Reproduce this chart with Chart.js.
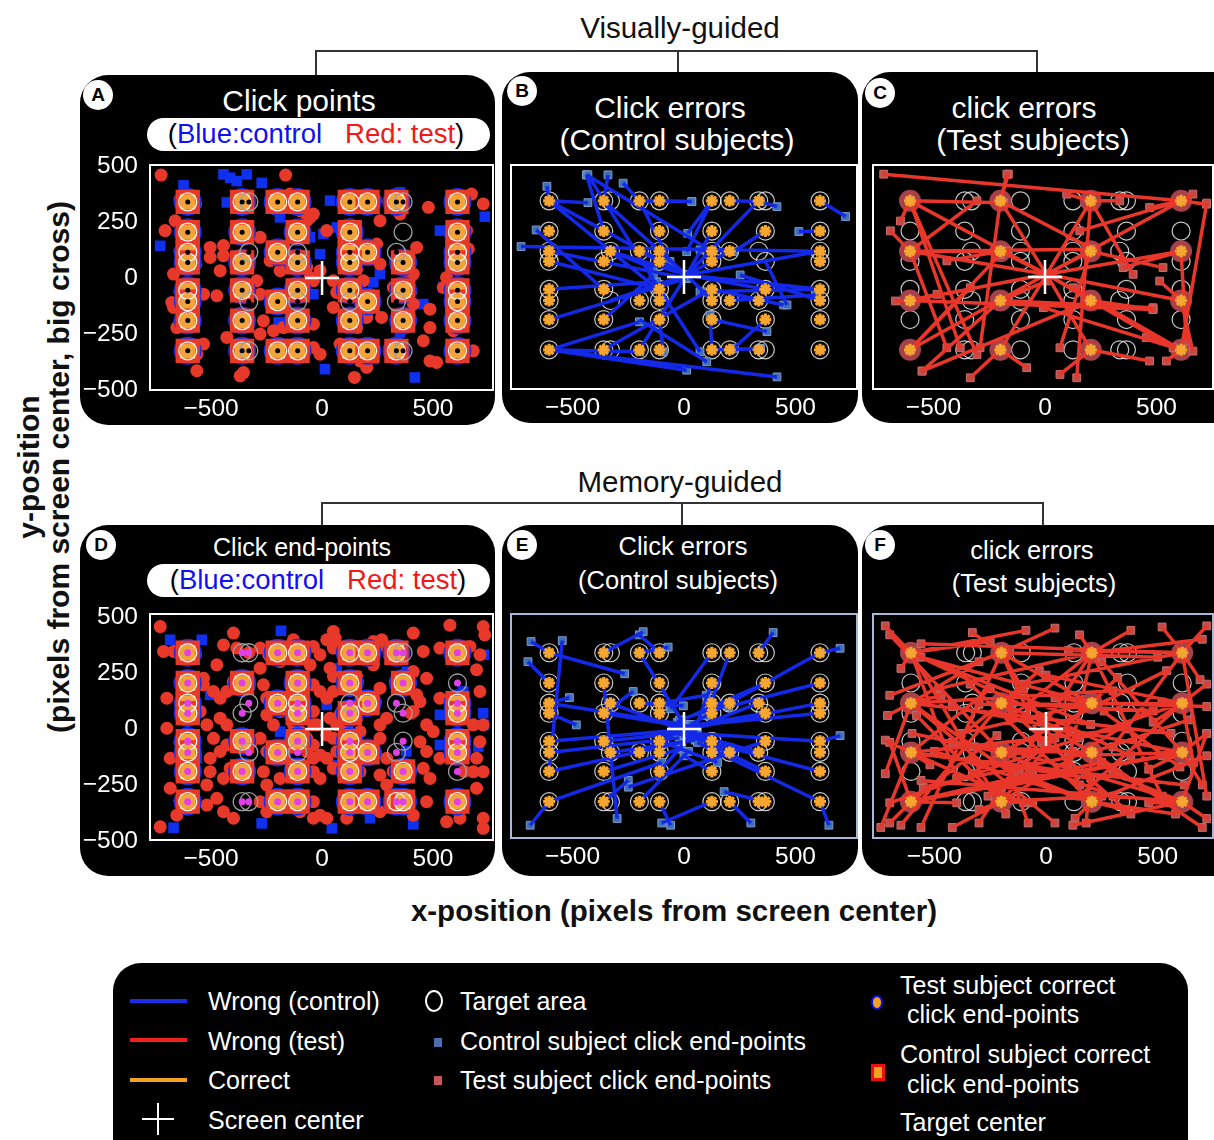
<!DOCTYPE html>
<html>
<head>
<meta charset="utf-8">
<script src="https://cdn.jsdelivr.net/npm/chart.js@4.4.0/dist/chart.umd.min.js"></script>
<style>
  body { margin: 0; background: #fff; width: 1214px; height: 1140px; position: relative; overflow: hidden;
         font-family: "Liberation Sans", Arial, sans-serif; }
  .panel { position: absolute; background: #000; border-radius: 28px; }
  .txt { position: absolute; transform: translate(-50%, -50%); white-space: nowrap; line-height: 1; }
  .ltxt { position: absolute; transform: translateY(-50%); white-space: nowrap; line-height: 1; color: #fff; font-size: 25px; }
  .w { color: #fff; }
  .badge { position: absolute; width: 30px; height: 30px; border-radius: 50%; background: #fff; color: #000;
           font-weight: bold; font-size: 19px; text-align: center; line-height: 30px; transform: translate(-50%, -50%); }
  .pill { position: absolute; background: #fff; border-radius: 17px; }
  .ln { position: absolute; background: #333; }
  canvas { position: absolute; }
</style>
</head>
<body>

<!-- section headings and brackets -->
<div class="txt" style="left:680px;top:28px;font-size:29.5px;color:#111">Visually-guided</div>
<div class="ln" style="left:316px;top:50px;width:722px;height:2px"></div>
<div class="ln" style="left:315px;top:50px;width:2px;height:26px"></div>
<div class="ln" style="left:677px;top:50px;width:2px;height:24px"></div>
<div class="ln" style="left:1036px;top:50px;width:2px;height:24px"></div>

<div class="txt" style="left:680px;top:482px;font-size:29.5px;color:#111">Memory-guided</div>
<div class="ln" style="left:322px;top:502px;width:722px;height:2px"></div>
<div class="ln" style="left:321px;top:502px;width:2px;height:25px"></div>
<div class="ln" style="left:681px;top:502px;width:2px;height:25px"></div>
<div class="ln" style="left:1042px;top:502px;width:2px;height:25px"></div>

<!-- black panels -->
<div class="panel" style="left:80px;top:75px;width:415px;height:350px"></div>
<div class="panel" style="left:502px;top:72px;width:356px;height:351px"></div>
<div class="panel" style="left:862px;top:72px;width:380px;height:351px"></div>
<div class="panel" style="left:80px;top:525px;width:415px;height:351px"></div>
<div class="panel" style="left:502px;top:525px;width:356px;height:351px"></div>
<div class="panel" style="left:862px;top:525px;width:380px;height:351px"></div>

<!-- panel titles -->
<div class="badge" style="left:98px;top:95px">A</div>
<div class="txt w" style="left:299px;top:101px;font-size:30px">Click points</div>
<div class="pill" style="left:147px;top:118px;width:343px;height:33px"></div>
<div class="txt" style="left:316px;top:134px;font-size:27.5px">(<span style="color:#1010f0">Blue:control</span>&nbsp;&nbsp;&nbsp;<span style="color:#f01818">Red: test</span>)</div>

<div class="badge" style="left:522px;top:91px">B</div>
<div class="txt w" style="left:670px;top:108px;font-size:30px">Click errors</div>
<div class="txt w" style="left:677px;top:140px;font-size:30px">(Control subjects)</div>

<div class="badge" style="left:880px;top:93px">C</div>
<div class="txt w" style="left:1024px;top:108px;font-size:30px">click errors</div>
<div class="txt w" style="left:1033px;top:140px;font-size:30px">(Test subjects)</div>

<div class="badge" style="left:101px;top:545px">D</div>
<div class="txt w" style="left:302px;top:547px;font-size:25px">Click end-points</div>
<div class="pill" style="left:147px;top:564px;width:343px;height:33px"></div>
<div class="txt" style="left:318px;top:580px;font-size:27.5px">(<span style="color:#1010f0">Blue:control</span>&nbsp;&nbsp;&nbsp;<span style="color:#f01818">Red: test</span>)</div>

<div class="badge" style="left:522px;top:545px">E</div>
<div class="txt w" style="left:683px;top:547px;font-size:25.5px">Click errors</div>
<div class="txt w" style="left:678px;top:581px;font-size:25.5px">(Control subjects)</div>

<div class="badge" style="left:880px;top:545px">F</div>
<div class="txt w" style="left:1032px;top:551px;font-size:25.5px">click errors</div>
<div class="txt w" style="left:1034px;top:584px;font-size:25.5px">(Test subjects)</div>

<!-- charts -->
<canvas id="cA" width="415" height="270" style="left:80px;top:155px"></canvas>
<canvas id="cB" width="356" height="270" style="left:502px;top:155px"></canvas>
<canvas id="cC" width="352" height="270" style="left:862px;top:155px"></canvas>
<canvas id="cD" width="415" height="272" style="left:80px;top:604px"></canvas>
<canvas id="cE" width="356" height="272" style="left:502px;top:604px"></canvas>
<canvas id="cF" width="352" height="272" style="left:862px;top:604px"></canvas>

<!-- axis titles -->
<div class="txt" style="left:674px;top:911px;font-size:29.5px;font-weight:bold;color:#111">x-position (pixels from screen center)</div>
<div class="txt" style="left:44px;top:467px;font-size:30px;font-weight:bold;color:#111;transform:translate(-50%,-50%) rotate(-90deg);text-align:center;line-height:30px">y-position<br>(pixels from screen center, big cross)</div>

<!-- legend -->
<div class="panel" style="left:113px;top:963px;width:1075px;height:210px"></div>
<div style="position:absolute;left:130px;top:999px;width:57px;height:4px;background:#1a2ee8"></div>
<div style="position:absolute;left:130px;top:1038px;width:57px;height:4px;background:#ee2020"></div>
<div style="position:absolute;left:130px;top:1078px;width:57px;height:4px;background:#f4a020"></div>
<div style="position:absolute;left:142px;top:1118px;width:32px;height:2px;background:#fff"></div>
<div style="position:absolute;left:157px;top:1103px;width:2px;height:32px;background:#fff"></div>
<div class="ltxt" style="left:208px;top:1001px">Wrong (control)</div>
<div class="ltxt" style="left:208px;top:1041px">Wrong (test)</div>
<div class="ltxt" style="left:208px;top:1080px">Correct</div>
<div class="ltxt" style="left:208px;top:1120px">Screen center</div>

<div style="position:absolute;left:425px;top:990px;width:14px;height:18px;border:2px solid #fff;border-radius:50%"></div>
<div style="position:absolute;left:434px;top:1038px;width:8px;height:9px;background:#4a6fae"></div>
<div style="position:absolute;left:434px;top:1076px;width:8px;height:9px;background:#c85656"></div>
<div class="ltxt" style="left:460px;top:1001px">Target area</div>
<div class="ltxt" style="left:460px;top:1041px">Control subject click end-points</div>
<div class="ltxt" style="left:460px;top:1080px">Test subject click end-points</div>

<div style="position:absolute;left:871px;top:995px;width:8px;height:11px;background:#f4a020;border:2px solid #1010e0;border-radius:50%"></div>
<div style="position:absolute;left:871px;top:1064px;width:8px;height:11px;background:#f4a020;border:3px solid #ee1010"></div>
<div class="ltxt" style="left:900px;top:985px">Test subject correct</div>
<div class="ltxt" style="left:907px;top:1014px">click end-points</div>
<div class="ltxt" style="left:900px;top:1054px">Control subject correct</div>
<div class="ltxt" style="left:907px;top:1084px">click end-points</div>
<div class="ltxt" style="left:900px;top:1122px">Target center</div>

<script>
// tick labels
const xTicks = [-500, 0, 500];
const yTicks = [-500, -250, 0, 250, 500];

// target grid (row by row, top to bottom)
const targetX = [
  -605, -360, -330, -200, -110, 125, 205, 335, 365, 610,
  -605, -360, -110, 125, 365, 610,
  -605, -330, -200, -110, 125, 205, 335, 610,
  -605, -360, -110, 125, 365, 610,
  -605, -360, -110, 125, 365, 610,
  -605, -330, -200, -110, 125, 205, 335, 610,
  -605, -360, -110, 125, 365, 610,
  -605, -360, -330, -200, -110, 125, 205, 335, 365, 610
];
const targetY = [
  340, 340, 340, 340, 340, 340, 340, 340, 340, 340,
  205, 205, 205, 205, 205, 205,
  115, 115, 115, 115, 115, 115, 115, 115,
  70, 70, 70, 70, 70, 70,
  -55, -55, -55, -55, -55, -55,
  -105, -105, -105, -105, -105, -105, -105, -105,
  -190, -190, -190, -190, -190, -190,
  -325, -325, -325, -325, -325, -325, -325, -325, -325, -325
];

// which targets got correct clicks in each panel
const hitA = [1,1,0,1,1,1,1,1,0,1, 1,1,1,1,0,1, 1,0,1,0,1,1,0,1, 1,1,1,1,1,1, 1,1,1,1,1,1, 1,0,1,0,0,1,0,1, 1,1,1,1,1,1, 1,1,0,1,1,1,1,1,0,1];
const hitB = [1,1,0,1,1,1,1,1,0,1, 1,1,1,1,1,1, 1,1,1,1,1,1,0,1, 1,1,1,1,0,1, 1,1,1,1,1,1, 1,0,1,1,1,1,1,1, 1,1,1,1,1,1, 1,1,0,1,1,1,1,1,0,1];
const hitC = [1,0,0,1,0,0,1,0,0,1, 0,0,0,0,0,0, 1,0,1,0,0,1,0,1, 0,0,0,0,0,0, 0,0,0,0,0,0, 1,0,1,0,0,1,0,1, 0,0,0,0,0,0, 1,0,0,1,0,0,1,0,0,1];
const hitD = [1,0,0,1,1,1,1,1,0,1, 1,1,1,1,1,0, 1,0,1,1,0,1,0,1, 1,0,1,1,0,1, 1,1,1,1,0,1, 1,0,1,0,1,1,0,1, 1,1,1,1,1,0, 1,0,0,1,1,1,1,1,1,1];
const hitE = [1,1,0,1,1,1,1,1,0,1, 1,1,1,1,1,1, 1,1,1,1,1,1,1,1, 1,1,1,1,1,1, 1,1,1,1,1,1, 1,1,1,1,1,1,1,1, 1,1,1,1,1,1, 1,1,0,1,1,1,1,1,1,1];
const hitF = hitC;

// A: visually-guided click points
const testClicksA = [
  [-725,460],[-164,460],[726,331],[479,316],[-662,256],[-707,212],[-504,137],[-444,145],[-279,182],[-504,92],
  [-459,33],[-474,-79],[-677,-109],[-534,-72],[-279,-250],[-264,-191],[-39,-206],[-174,-116],[-564,-414],[-369,-437],
  [-354,-422],[146,-444],[516,-377],[486,-370],[456,-280],[486,-221],[486,-139],[561,3],[546,-42],[411,18],
  [396,3],[396,78],[426,137],[659,130],[651,212],[261,63],[246,152],[21,212],[-39,286],[-54,271],
  [-144,375],[261,256],[268,-176],[51,-131],[66,-64],[-9,33],[51,-12],[-129,-191],[-39,-12],[-219,-235],
  [-174,-221],[81,-295],[171,-370],[201,-399],[-444,100],[673,375],[351,286],[-99,301],[-69,256],[-234,78],
  [-189,33],[-69,48],[-54,3],[156,40],[186,-12],[201,-176],[156,-221],[321,-42],[411,-116],[591,-235],
  [636,-146],[-669,18],[-669,-131],[-654,-221],[-534,-295],[-564,-340],[-429,-265],[-384,-27],[-294,-12],[-279,-72],
  [-219,-310],[-39,-310],[-9,-340],[321,-325],[681,-325],
  [-640,350],[-570,330],[-620,215],[-580,190],[-640,120],[-570,60],[-640,-60],[-575,-110],[-640,-190],[-570,-330],
  [-390,350],[-330,210],[-380,-60],[-330,-190],[-230,120],[-170,-110],[-140,350],[-80,210],[-80,-60],[-140,-330],
  [100,350],[160,120],[90,-60],[160,-190],[240,350],[230,-105],[300,340],[400,-60],[340,-190],[580,350],
  [640,220],[580,70],[640,-55],[580,-190],[640,-330]
];
const controlClicksA = [
  [-624,414],[-444,463],[-414,448],[-384,433],[-339,463],[-272,425],[-729,144],[-429,338],[-189,271],[-54,182],
  [6,197],[-9,107],[36,346],[66,226],[351,383],[531,212],[733,274],[261,18],[231,-19],[-39,-72],
  [456,-116],[351,-243],[418,-444],[13,-407],[-196,-198],[231,-362],[-129,78],[-189,137],[546,-42],[-580,340],
  [-580,-325],[-330,-330],[-630,-100],[640,345],[640,-320],[150,345],[-180,-330],[-90,-325],[380,-55],[-575,120]
];

// D: memory-guided click end-points
const testClicksD = [
  [-729,457],[-399,428],[51,435],[59,405],[411,428],[576,463],[726,457],[733,420],[269,398],[231,390],[-129,398],[21,398],
  [-714,346],[-669,346],[-444,375],[-384,361],[-279,361],[-39,368],[-9,331],[51,361],[261,375],[456,346],[531,361],[666,368],[711,331],
  [-534,226],[-474,286],[-279,271],[-189,301],[-54,286],[36,271],[51,234],[231,286],[411,256],[471,226],[696,264],[156,234],
  [-534,197],[-489,167],[-459,137],[-429,167],[-264,197],[-249,137],[-39,197],[-9,167],[21,137],[51,167],[261,182],[426,152],
  [441,122],[531,137],[711,167],[-699,137],
  [-699,3],[-549,78],[-519,18],[-459,48],[-429,18],[-249,63],[-219,18],[-189,78],[-39,78],[-24,18],[21,-27],[81,63],[111,3],
  [156,48],[171,-12],[261,18],[291,48],[411,78],[471,18],[501,-12],[681,18],[726,18],
  [-489,-42],[-459,-101],[-429,-72],[-279,-42],[-249,-101],[-189,-131],[-69,-42],[-39,-72],[-9,-116],[51,-42],[66,-101],
  [111,-72],[156,-57],[261,-42],[291,-131],[441,-57],[471,-101],[531,-131],[696,-131],[-684,-131],[-504,-131],[711,-57],
  [-504,-191],[-444,-221],[-414,-176],[-264,-191],[-249,-250],[-189,-221],[-39,-191],[-9,-221],[51,-176],[171,-191],
  [261,-206],[291,-250],[456,-176],[486,-221],[681,-191],[726,-191],[696,-265],[-684,-265],[-519,-250],
  [-729,-437],[-654,-385],[-519,-340],[-474,-310],[-279,-325],[-249,-370],[-99,-370],[-39,-399],[-9,-385],[21,-399],
  [111,-399],[261,-370],[471,-325],[561,-414],[621,-399],[726,-399],[726,-444],[-399,-399],[-444,-370],[-39,-325],[411,-385],
  [-129,18],[-99,-12],[-69,78],[-39,18],[36,48],[66,18],[96,-42],[-39,-131],[21,-131],[-69,-101],
  [-640,350],[-570,330],[-640,210],[-570,90],[-640,-60],[-575,-190],[-640,-320],[-160,350],[-240,330],[-140,120],
  [-80,60],[-150,-60],[-80,-190],[-240,-330],[100,350],[160,210],[90,80],[160,-55],[100,-320],[240,120],
  [240,-105],[300,350],[330,210],[400,70],[320,-190],[380,-330],[580,350],[640,120],[580,-55],[640,-190],
  [580,-325],[-330,340],[-400,210],[-320,-60],[-380,-190]
];
const controlClicksD = [
  [-684,398],[-542,398],[-185,438],[729,331],[726,70],[729,18],[704,-79],[531,-72],[-272,-422],[-669,-441],
  [44,-444],[411,-426],[216,-399],[21,107],[66,-161],[-189,-12],[-324,197],[-504,152],[66,271],[531,63],
  [636,167],[351,-161],[-564,-131],[-211,-355],[381,256],[-580,345],[-630,-320],[640,345],[640,-110],[150,-330],
  [-90,340],[-330,-60],[380,-100]
];

// wrong clicks: [target x, target y, click x, click y]
const errorsB = [
  [-605,340,-431,332],[-605,340,-615,405],[-605,340,12,9],[-605,340,-123,-51],[125,115,-438,456],
  [-360,205,-438,456],[-360,340,-341,456],[-200,340,-273,419],[-110,-55,-431,456],[-360,340,12,9],
  [-200,340,35,337],[610,115,-731,136],[-360,-55,-663,210],[-605,115,12,-6],[-605,70,-123,-51],
  [-605,-55,-123,-21],[-605,-190,12,-6],[-605,-325,417,-446],[-605,-325,12,-416],[-605,-325,-198,-334],
  [-360,-325,102,-66],[-360,-190,-138,9],[-200,-190,102,-378],[-200,-325,12,9],[-110,-190,-93,-334],
  [-110,-55,72,-334],[-110,115,12,9],[205,115,12,9],[125,205,12,9],[335,340,12,9],
  [610,115,12,9],[610,-55,12,9],[610,-55,72,-66],[610,-105,252,9],[125,-55,447,-125],
  [205,-105,590,-80],[125,-325,342,-319],[365,-190,222,-319],[205,-325,342,-319],[125,-190,372,-244],
  [125,-325,117,-170],[335,340,417,314],[205,340,342,337],[610,340,725,270],[610,205,515,203],
  [365,205,222,113],[205,115,72,121],[125,340,12,113],[-110,340,35,337],[-200,115,12,9],
  [-330,115,12,9],[-330,115,-138,39],[-200,340,-63,69],[125,340,17,195],[365,-55,12,9],
  [365,70,462,-125],[-605,-325,-200,-200],[-330,-105,12,9],[125,-105,12,9]
];
const errorsC = [
  [610,340,-723,459],[-200,340,-164,459],[-605,340,-648,250],[-605,340,7,12],[-605,340,-305,-346],
  [-605,340,-186,332],[-605,340,-380,-316],[-605,115,-693,206],[-605,115,-440,-316],[-605,115,7,12],
  [-605,115,-171,116],[-605,115,-305,340],[-605,115,216,124],[-605,-105,7,12],[-605,-105,-670,-107],
  [-605,-105,484,-145],[-605,-105,-484,-77],[-605,-325,7,12],[-605,-325,-201,101],[-605,-325,-335,-48],
  [205,-105,-551,-420],[-200,340,216,124],[-200,340,-171,459],[-200,340,7,12],[-200,340,-291,-316],
  [-200,115,7,12],[-200,115,-440,72],[-200,-105,7,-18],[-200,-105,484,-137],[-200,-325,7,12],
  [-200,-325,-82,-405],[-200,-325,-335,-450],[205,340,7,12],[205,340,97,370],[205,340,335,340],
  [205,340,395,12],[205,340,142,-450],[205,115,7,12],[205,115,529,42],[205,115,67,-316],
  [205,-105,7,12],[205,-105,484,-145],[205,-105,574,-316],[205,-325,7,12],[205,-325,469,-375],
  [205,-325,67,-435],[610,340,723,325],[610,340,469,310],[610,340,663,370],[610,340,156,206],
  [610,340,7,12],[610,115,7,12],[610,115,633,-286],[610,115,350,42],[610,-105,7,12],
  [610,-105,514,-18],[610,-105,663,-331],[610,-325,7,12],[610,-325,454,-271],[610,-325,725,330],
  [610,-325,-7,-137],[610,-325,127,-48],[610,-325,544,-375],[-200,-105,-551,-420]
];
const errorsE = [
  [-605,340,-686,390],[-605,340,-266,246],[-605,-190,-546,394],[-360,340,-183,434],[-200,340,-71,365],
  [-110,340,-200,420],[-200,340,10,5],[-605,115,-514,140],[-605,115,0,20],[-605,70,-483,18],
  [-360,70,-228,167],[-360,70,10,10],[-330,115,30,-20],[-200,115,-3,103],[-605,-55,40,0],
  [-605,-105,-20,-40],[-605,-190,-10,-60],[-605,-325,-100,-150],[-605,-325,-690,-430],[-360,-55,60,-10],
  [-330,-105,50,-50],[-360,-190,-20,-90],[-360,-325,-250,-230],[-200,-325,20,-100],[-110,-325,-60,-430],
  [-110,-190,30,-30],[-200,-105,0,0],[610,340,30,20],[610,115,20,0],[610,70,-20,10],
  [610,-55,40,-20],[610,-190,0,-30],[610,-325,60,-60],[365,205,-30,30],[335,115,10,-10],
  [365,70,-50,0],[335,-105,0,-10],[365,-190,20,-20],[365,-325,180,-280],[205,340,100,60],
  [125,340,-60,90],[125,205,50,0],[205,115,-20,40],[125,-55,-40,-20],[125,-190,0,-120],
  [125,-325,-100,-420],[205,-325,300,-420],[610,340,700,360],[610,-55,700,-30],[610,-325,650,-430],
  [335,340,400,430],[-110,115,100,150],[-110,-55,150,-150],[365,-55,-250,-260],[610,205,200,100],
  [-605,205,-700,300],[-360,205,-300,-400]
];
const errorsF = [
  [-605,340,-720,460],[-605,340,-90,440],[-605,340,200,20],[-605,340,-250,390],[-605,340,-650,270],
  [-605,340,-400,-220],[-605,340,380,-120],[-605,340,-180,-380],
  [-200,340,-330,430],[-200,340,40,450],[-200,340,-560,-440],[-200,340,150,-250],[-200,340,500,320],
  [-200,340,-700,150],[-200,340,260,80],[-200,340,-20,-60],
  [205,340,150,420],[205,340,380,440],[205,340,-480,180],[205,340,-300,-420],[205,340,520,-300],
  [205,340,100,-150],[205,340,-150,60],[205,340,700,400],
  [610,340,720,460],[610,340,520,455],[610,340,690,220],[610,340,-100,200],[610,340,300,-80],
  [610,340,-560,380],[610,340,720,-300],[610,340,100,350],
  [-605,115,-710,60],[-605,115,-470,150],[-605,115,300,170],[-605,115,-150,-200],[-605,115,560,-20],
  [-605,115,-300,300],[-605,115,40,-420],[-605,115,-720,-200],
  [-200,115,-100,180],[-200,115,-420,-60],[-200,115,480,80],[-200,115,150,-40],[-200,115,-650,-430],
  [-200,115,-30,260],[-200,115,380,-380],
  [205,115,320,230],[205,115,-380,-20],[205,115,600,-170],[205,115,-260,-300],[205,115,40,140],
  [205,115,720,100],[205,115,-560,320],
  [610,115,720,200],[610,115,480,30],[610,115,-300,110],[610,115,150,-300],[610,115,660,-150],
  [610,115,-700,-330],[610,115,0,240],
  [-605,-105,-720,-50],[-605,-105,-520,-160],[-605,-105,360,0],[-605,-105,-100,-330],[-605,-105,200,-220],
  [-605,-105,-250,180],[-605,-105,620,-250],[-605,-105,-740,-440],
  [-200,-105,-330,-200],[-200,-105,120,-100],[-200,-105,-600,-20],[-200,-105,540,260],[-200,-105,-80,-420],
  [-200,-105,300,-300],[-200,-105,-700,420],
  [205,-105,320,-200],[205,-105,-320,-80],[205,-105,640,40],[205,-105,-20,30],[205,-105,180,-420],
  [205,-105,-550,-260],[205,-105,700,-440],
  [610,-105,720,-20],[610,-105,460,-180],[610,-105,-420,100],[610,-105,100,-120],[610,-105,700,-250],
  [610,-105,-200,-260],[610,-105,250,300],
  [-605,-325,-700,-420],[-605,-325,-400,-330],[-605,-325,250,-150],[-605,-325,-220,-30],[-605,-325,-700,-60],
  [-605,-325,520,-120],[-605,-325,-60,-200],
  [-200,-325,-300,-360],[-200,-325,-60,-330],[-200,-325,520,120],[-200,-325,-580,60],[-200,-325,250,-300],
  [-200,-325,-420,-440],[-200,-325,40,-40],
  [205,-325,130,-400],[205,-325,350,-360],[205,-325,-500,-100],[205,-325,580,-380],[205,-325,-120,-200],
  [205,-325,720,-120],[205,-325,-340,200],
  [610,-325,720,-400],[610,-325,460,-330],[610,-325,-560,-230],[610,-325,300,-200],[610,-325,720,-20],
  [610,-325,-150,-100],[610,-325,120,-430]
];

const FONT = { family: "Liberation Sans", size: 24.5 };

function toPts(list) { return list.map(p => ({ x: p[0], y: p[1] })); }

function frame(color) {
  return {
    id: 'frame',
    afterDraw(chart) {
      const { ctx, chartArea: a } = chart;
      ctx.save();
      ctx.strokeStyle = color;
      ctx.lineWidth = 2;
      ctx.strokeRect(a.left, a.top, a.right - a.left, a.bottom - a.top);
      ctx.restore();
    }
  };
}

function makeChart(id, datasets, o) {
  new Chart(document.getElementById(id), {
    type: 'scatter',
    data: { datasets: datasets },
    options: {
      responsive: false,
      animation: false,
      devicePixelRatio: 1,
      layout: { padding: o.pad, autoPadding: false },
      plugins: { legend: { display: false }, tooltip: { enabled: false } },
      scales: {
        x: {
          min: o.x[0], max: o.x[1],
          grid: { display: false, drawTicks: false },
          border: { display: false },
          ticks: { color: '#fff', font: FONT, padding: 5, maxRotation: 0,
                   callback: v => String(v).replace('-', '\u2212') },
          afterBuildTicks: s => { s.ticks = xTicks.map(v => ({ value: v })); },
          afterFit: s => { s.height = o.xh; s.paddingLeft = 0; s.paddingRight = 0; }
        },
        y: {
          display: o.showY,
          min: o.y[0], max: o.y[1],
          grid: { display: false, drawTicks: false },
          border: { display: false },
          ticks: { color: '#fff', font: FONT, padding: 12,
                   callback: v => String(v).replace('-', '\u2212') },
          afterBuildTicks: s => { s.ticks = yTicks.map(v => ({ value: v })); },
          afterFit: s => { if (o.showY) s.width = 70; s.paddingTop = 0; s.paddingBottom = 0; }
        }
      }
    },
    plugins: [frame(o.frame)]
  });
}

const targets = targetX.map((x, i) => ({ x: x, y: targetY[i] }));
const cross = { data: [{ x: 0, y: 0 }], pointStyle: 'cross', pointRadius: 17, borderColor: '#fff', borderWidth: 2.5 };

// click-point panels (A, D)
function cloudSets(hit, centerColor, centerR, reds, blues) {
  const hits = targets.filter((p, i) => hit[i]);
  return [
    cross,
    { data: targets, pointRadius: centerR, backgroundColor: centerColor, borderWidth: 0 },
    { data: targets, pointRadius: 9, backgroundColor: 'rgba(0,0,0,0)',
      borderColor: targets.map((p, i) => hit[i] ? '#f4f4f4' : '#a0a0a0'), borderWidth: 1.3 },
    { data: hits, pointStyle: 'rect', pointRadius: 14, backgroundColor: '#f2a33a', borderColor: '#e8382a', borderWidth: 4.5 },
    { data: hits, pointRadius: 12.5, backgroundColor: '#f2a33a', borderColor: '#1a2ee8', borderWidth: 3 },
    { data: toPts(reds), pointRadius: 6.5, backgroundColor: '#e8382a', borderWidth: 0 },
    { data: toPts(blues), pointStyle: 'rect', pointRadius: 7.5, backgroundColor: '#1030f0', borderWidth: 0 }
  ];
}

// error panels (B, C, E, F)
function errorSets(segs, hit, lineColor, sqColor, sqEdge, halo) {
  const hits = targets.filter((p, i) => hit[i]);
  const lineData = [];
  segs.forEach(s => { lineData.push({ x: s[0], y: s[1] }, { x: s[2], y: s[3] }, { x: null, y: null }); });
  const ends = segs.map(s => ({ x: s[2], y: s[3] }));
  const sets = [
    cross,
    { data: hits, pointStyle: 'star', pointRadius: 6, borderColor: '#f4a630', borderWidth: 3.2 },
    { data: lineData, showLine: true, spanGaps: false, borderColor: lineColor, borderWidth: 3.5, pointRadius: 0 },
    { data: ends, pointStyle: 'rect', pointRadius: 5.5, backgroundColor: sqColor, borderColor: sqEdge, borderWidth: 1 }
  ];
  if (halo) {
    sets.push({ data: hits, pointRadius: 11, backgroundColor: '#a8404a', borderWidth: 0 });
  }
  sets.push({ data: targets, pointRadius: 9, backgroundColor: 'rgba(0,0,0,0)', borderColor: 'rgba(235,235,235,0.85)', borderWidth: 1.2 });
  return sets;
}

makeChart('cA', cloudSets(hitA, '#000', 2.5, testClicksA, controlClicksA),
  { pad: { top: 10, right: 2, left: 0, bottom: 0 }, x: [-775, 770], y: [-500, 505], xh: 35, showY: true, frame: '#fff' });
makeChart('cD', cloudSets(hitD, '#e040e8', 3.5, testClicksD, controlClicksD),
  { pad: { top: 10, right: 2, left: 0, bottom: 0 }, x: [-775, 770], y: [-496, 513], xh: 36, showY: true, frame: '#fff' });

makeChart('cB', errorSets(errorsB, hitB, '#1428e8', '#3f6fb5', '#7a9ad0', false),
  { pad: { top: 10, right: 1, left: 9, bottom: 0 }, x: [-776, 776], y: [-500, 500], xh: 36, showY: false, frame: '#fff' });
makeChart('cC', errorSets(errorsC, hitC, '#e8362a', '#c04c4a', '#d06a66', true),
  { pad: { top: 10, right: 1, left: 11, bottom: 0 }, x: [-771, 753], y: [-500, 500], xh: 36, showY: false, frame: '#fff' });
makeChart('cE', errorSets(errorsE, hitE, '#1428e8', '#3f6fb5', '#7a9ad0', false),
  { pad: { top: 10, right: 1, left: 9, bottom: 0 }, x: [-776, 776], y: [-487, 513], xh: 38, showY: false, frame: '#a8b8d8' });
makeChart('cF', errorSets(errorsF, hitF, '#e8362a', '#c04c4a', '#d06a66', true),
  { pad: { top: 10, right: 1, left: 11, bottom: 0 }, x: [-775, 748], y: [-487, 513], xh: 38, showY: false, frame: '#a8b8d8' });
</script>
</body>
</html>
